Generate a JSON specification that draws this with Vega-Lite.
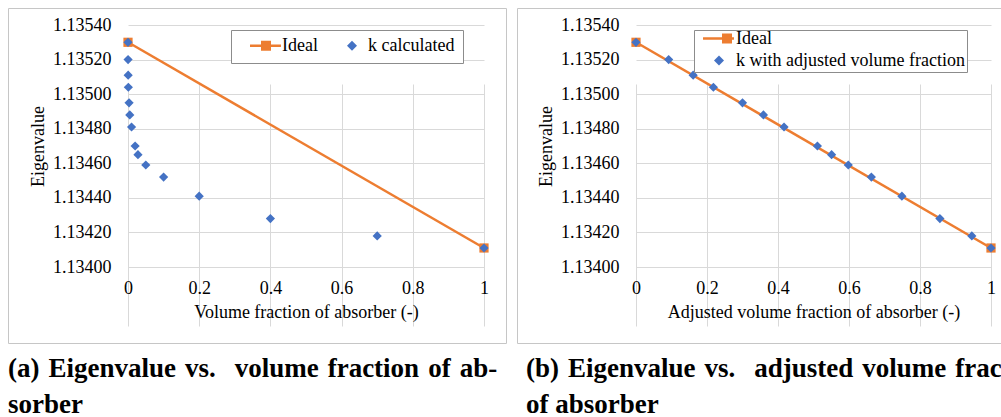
{
  "$schema": "https://vega.github.io/schema/vega-lite/v6.json",
  "padding": {"left": 7, "top": 7, "right": 0, "bottom": 0},
  "background": "white",
  "spacing": 11,
  "bounds": "flush",
  "datasets": {
    "ideal": [
      {"x": 0, "k": 1.1353, "series": "Ideal"},
      {"x": 1, "k": 1.13411, "series": "Ideal"}
    ],
    "kcalc": [
      {"x": 0, "k": 1.1353, "series": "k calculated"},
      {"x": 0.0002, "k": 1.1352, "series": "k calculated"},
      {"x": 0.0005, "k": 1.13511, "series": "k calculated"},
      {"x": 0.001, "k": 1.13504, "series": "k calculated"},
      {"x": 0.003, "k": 1.13495, "series": "k calculated"},
      {"x": 0.005, "k": 1.13488, "series": "k calculated"},
      {"x": 0.01, "k": 1.13481, "series": "k calculated"},
      {"x": 0.02, "k": 1.1347, "series": "k calculated"},
      {"x": 0.028, "k": 1.13465, "series": "k calculated"},
      {"x": 0.05, "k": 1.13459, "series": "k calculated"},
      {"x": 0.1, "k": 1.13452, "series": "k calculated"},
      {"x": 0.2, "k": 1.13441, "series": "k calculated"},
      {"x": 0.4, "k": 1.13428, "series": "k calculated"},
      {"x": 0.7, "k": 1.13418, "series": "k calculated"},
      {"x": 1.0, "k": 1.13411, "series": "k calculated"}
    ],
    "kadj": [
      {"x": 0, "k": 1.1353, "series": "k with adjusted volume fraction"},
      {"x": 0.092, "k": 1.1352, "series": "k with adjusted volume fraction"},
      {"x": 0.161, "k": 1.13511, "series": "k with adjusted volume fraction"},
      {"x": 0.218, "k": 1.13504, "series": "k with adjusted volume fraction"},
      {"x": 0.3, "k": 1.13495, "series": "k with adjusted volume fraction"},
      {"x": 0.359, "k": 1.13488, "series": "k with adjusted volume fraction"},
      {"x": 0.417, "k": 1.13481, "series": "k with adjusted volume fraction"},
      {"x": 0.511, "k": 1.1347, "series": "k with adjusted volume fraction"},
      {"x": 0.551, "k": 1.13465, "series": "k with adjusted volume fraction"},
      {"x": 0.598, "k": 1.13459, "series": "k with adjusted volume fraction"},
      {"x": 0.663, "k": 1.13452, "series": "k with adjusted volume fraction"},
      {"x": 0.749, "k": 1.13441, "series": "k with adjusted volume fraction"},
      {"x": 0.856, "k": 1.13428, "series": "k with adjusted volume fraction"},
      {"x": 0.946, "k": 1.13418, "series": "k with adjusted volume fraction"},
      {"x": 1.0, "k": 1.13411, "series": "k with adjusted volume fraction"}
    ]
  },
  "hconcat": [
    {
      "width": 498,
      "height": 335,
      "title": {
        "text": ["(a)\u200a Eigenvalue\u200a vs.\u00a0\u2009 volume\u200a fraction\u200a of\u200a ab-", "sorber"],
        "orient": "bottom", "anchor": "start", "frame": "group",
        "font": "Times New Roman, Liberation Serif, DejaVu Serif, serif", "fontSize": 27, "fontWeight": "bold", "color": "#000",
        "lineHeight": 36, "offset": 13, "baseline": "top"
      },
      "encoding": {
        "x": {
          "field": "x", "type": "quantitative",
          "scale": {"domain": [0, 1], "range": [120, 476], "nice": false, "zero": false},
          "axis": {
            "title": "Volume fraction of absorber (-)",
            "values": [0, 0.2, 0.4, 0.6, 0.8, 1], "format": "~g",
            "offset": -76, "domain": false, "ticks": false, "tickSize": 0,
            "grid": true, "gridColor": "#d9d9d9", "gridWidth": 1,
            "labelFont": "Times New Roman, Liberation Serif, DejaVu Serif, serif", "labelFontSize": 18, "labelColor": "#000",
            "labelBaseline": "middle", "labelPadding": 21, "labelFlush": false, "labelOverlap": false,
            "titleFont": "Times New Roman, Liberation Serif, DejaVu Serif, serif", "titleFontSize": 18, "titleFontWeight": "normal", "titleColor": "#000",
            "titlePadding": 6
          }
        },
        "y": {
          "field": "k", "type": "quantitative",
          "scale": {"domain": [1.134, 1.1354], "range": [259, 17], "nice": false, "zero": false},
          "axis": {
            "title": "Eigenvalue",
            "values": [1.134, 1.1342, 1.1344, 1.1346, 1.1348, 1.135, 1.1352, 1.1354], "format": ".5f",
            "offset": -120, "domain": false, "ticks": false, "tickSize": 0,
            "grid": true, "gridColor": "#d9d9d9", "gridWidth": 1,
            "labelFont": "Times New Roman, Liberation Serif, DejaVu Serif, serif", "labelFontSize": 18, "labelColor": "#000",
            "labelPadding": 17, "labelOverlap": false,
            "titleFont": "Times New Roman, Liberation Serif, DejaVu Serif, serif", "titleFontSize": 18, "titleFontWeight": "normal", "titleColor": "#000",
            "titlePadding": 5
          }
        }
      },
      "layer": [
        {
          "data": {"name": "ideal"},
          "mark": {"type": "line", "color": "#ED7D31", "strokeWidth": 2.5}
        },
        {
          "data": {"name": "ideal"},
          "mark": {"type": "point", "shape": "square", "filled": true, "color": "#ED7D31", "size": 85, "opacity": 1}
        },
        {
          "data": {"name": "kcalc"},
          "mark": {"type": "point", "filled": true, "size": 980, "opacity": 1, "strokeWidth": 0},
          "encoding": {
            "color": {
              "field": "series", "type": "nominal",
              "scale": {"domain": ["Ideal", "k calculated"], "range": ["#ED7D31", "#4472C4"]},
              "legend": {
                "orient": "none", "legendX": 223, "legendY": 22, "direction": "horizontal", "title": null,
                "padding": 8, "clipHeight": 15, "symbolSize": 1156, "symbolOffset": 10, "labelOffset": -1,
                "columnPadding": 7, "symbolStrokeWidth": 0, "symbolOpacity": 1,
                "labelFont": "Times New Roman, Liberation Serif, DejaVu Serif, serif", "labelFontSize": 18, "labelColor": "#000", "labelLimit": 400,
                "fillColor": "#ffffff", "strokeColor": "#8c8c8c",
                "labelExpr": "datum.label + '\u2002'"
              }
            },
            "shape": {
              "field": "series", "type": "nominal",
              "scale": {
                "domain": ["Ideal", "k calculated"],
                "range": [
                  "M-0.94,-0.074H0.88V0.074H-0.94Z M-0.294,-0.294H0.294V0.294H-0.294Z",
                  "M-0.294,0L0,-0.294L0.294,0L0,0.294Z"
                ]
              },
              "legend": {
                "orient": "none", "legendX": 223, "legendY": 22, "direction": "horizontal", "title": null,
                "padding": 8, "clipHeight": 15, "symbolSize": 1156, "symbolOffset": 10, "labelOffset": -1,
                "columnPadding": 7, "symbolStrokeWidth": 0, "symbolOpacity": 1,
                "labelFont": "Times New Roman, Liberation Serif, DejaVu Serif, serif", "labelFontSize": 18, "labelColor": "#000", "labelLimit": 400,
                "fillColor": "#ffffff", "strokeColor": "#8c8c8c",
                "labelExpr": "datum.label + '\u2002'"
              }
            }
          }
        }
      ]
    },
    {
      "width": 498,
      "height": 335,
      "title": {
        "text": ["(b)\u200a Eigenvalue\u200a vs.\u00a0\u2009 adjusted\u200a volume\u200a fraction", "of absorber"],
        "orient": "bottom", "anchor": "start", "frame": "group", "dx": 9,
        "font": "Times New Roman, Liberation Serif, DejaVu Serif, serif", "fontSize": 27, "fontWeight": "bold", "color": "#000",
        "lineHeight": 36, "offset": 13, "baseline": "top"
      },
      "encoding": {
        "x": {
          "field": "x", "type": "quantitative",
          "scale": {"domain": [0, 1], "range": [119, 474], "nice": false, "zero": false},
          "axis": {
            "title": "Adjusted volume fraction of absorber (-)",
            "values": [0, 0.2, 0.4, 0.6, 0.8, 1], "format": "~g",
            "offset": -76, "domain": false, "ticks": false, "tickSize": 0,
            "grid": true, "gridColor": "#d9d9d9", "gridWidth": 1,
            "labelFont": "Times New Roman, Liberation Serif, DejaVu Serif, serif", "labelFontSize": 18, "labelColor": "#000",
            "labelBaseline": "middle", "labelPadding": 21, "labelFlush": false, "labelOverlap": false,
            "titleFont": "Times New Roman, Liberation Serif, DejaVu Serif, serif", "titleFontSize": 18, "titleFontWeight": "normal", "titleColor": "#000",
            "titlePadding": 6
          }
        },
        "y": {
          "field": "k", "type": "quantitative",
          "scale": {"domain": [1.134, 1.1354], "range": [259, 17], "nice": false, "zero": false},
          "axis": {
            "title": "Eigenvalue",
            "values": [1.134, 1.1342, 1.1344, 1.1346, 1.1348, 1.135, 1.1352, 1.1354], "format": ".5f",
            "offset": -119, "domain": false, "ticks": false, "tickSize": 0,
            "grid": true, "gridColor": "#d9d9d9", "gridWidth": 1,
            "labelFont": "Times New Roman, Liberation Serif, DejaVu Serif, serif", "labelFontSize": 18, "labelColor": "#000",
            "labelPadding": 17, "labelOverlap": false,
            "titleFont": "Times New Roman, Liberation Serif, DejaVu Serif, serif", "titleFontSize": 18, "titleFontWeight": "normal", "titleColor": "#000",
            "titlePadding": 5
          }
        }
      },
      "layer": [
        {
          "data": {"name": "ideal"},
          "mark": {"type": "line", "color": "#ED7D31", "strokeWidth": 2.5}
        },
        {
          "data": {"name": "ideal"},
          "mark": {"type": "point", "shape": "square", "filled": true, "color": "#ED7D31", "size": 85, "opacity": 1}
        },
        {
          "data": {"name": "kadj"},
          "mark": {"type": "point", "filled": true, "size": 980, "opacity": 1, "strokeWidth": 0},
          "encoding": {
            "color": {
              "field": "series", "type": "nominal",
              "scale": {"domain": ["Ideal", "k with adjusted volume fraction"], "range": ["#ED7D31", "#4472C4"]},
              "legend": {
                "orient": "none", "legendX": 177, "legendY": 22, "direction": "vertical", "title": null,
                "padding": 2, "clipHeight": 13, "rowPadding": 3, "symbolSize": 1156, "symbolOffset": 6, "labelOffset": 0,
                "symbolStrokeWidth": 0, "symbolOpacity": 1,
                "labelFont": "Times New Roman, Liberation Serif, DejaVu Serif, serif", "labelFontSize": 18, "labelColor": "#000", "labelLimit": 400,
                "fillColor": "#ffffff", "strokeColor": "#8c8c8c",
                "labelExpr": "datum.label + '\u2005'"
              }
            },
            "shape": {
              "field": "series", "type": "nominal",
              "scale": {
                "domain": ["Ideal", "k with adjusted volume fraction"],
                "range": [
                  "M-0.94,-0.074H0.88V0.074H-0.94Z M0.176,-0.294H0.765V0.294H0.176Z",
                  "M-0.294,0L0,-0.294L0.294,0L0,0.294Z"
                ]
              },
              "legend": {
                "orient": "none", "legendX": 177, "legendY": 22, "direction": "vertical", "title": null,
                "padding": 2, "clipHeight": 13, "rowPadding": 3, "symbolSize": 1156, "symbolOffset": 6, "labelOffset": 0,
                "symbolStrokeWidth": 0, "symbolOpacity": 1,
                "labelFont": "Times New Roman, Liberation Serif, DejaVu Serif, serif", "labelFontSize": 18, "labelColor": "#000", "labelLimit": 400,
                "fillColor": "#ffffff", "strokeColor": "#8c8c8c",
                "labelExpr": "datum.label + '\u2005'"
              }
            }
          }
        }
      ]
    }
  ],
  "resolve": {
    "scale": {"x": "independent", "y": "independent", "color": "independent", "shape": "independent"},
    "axis": {"x": "independent", "y": "independent"},
    "legend": {"color": "independent", "shape": "independent"}
  },
  "config": {
    "view": {"stroke": "#c6c6c6", "strokeWidth": 1},
    "font": "Times New Roman, Liberation Serif, DejaVu Serif, serif"
  }
}
